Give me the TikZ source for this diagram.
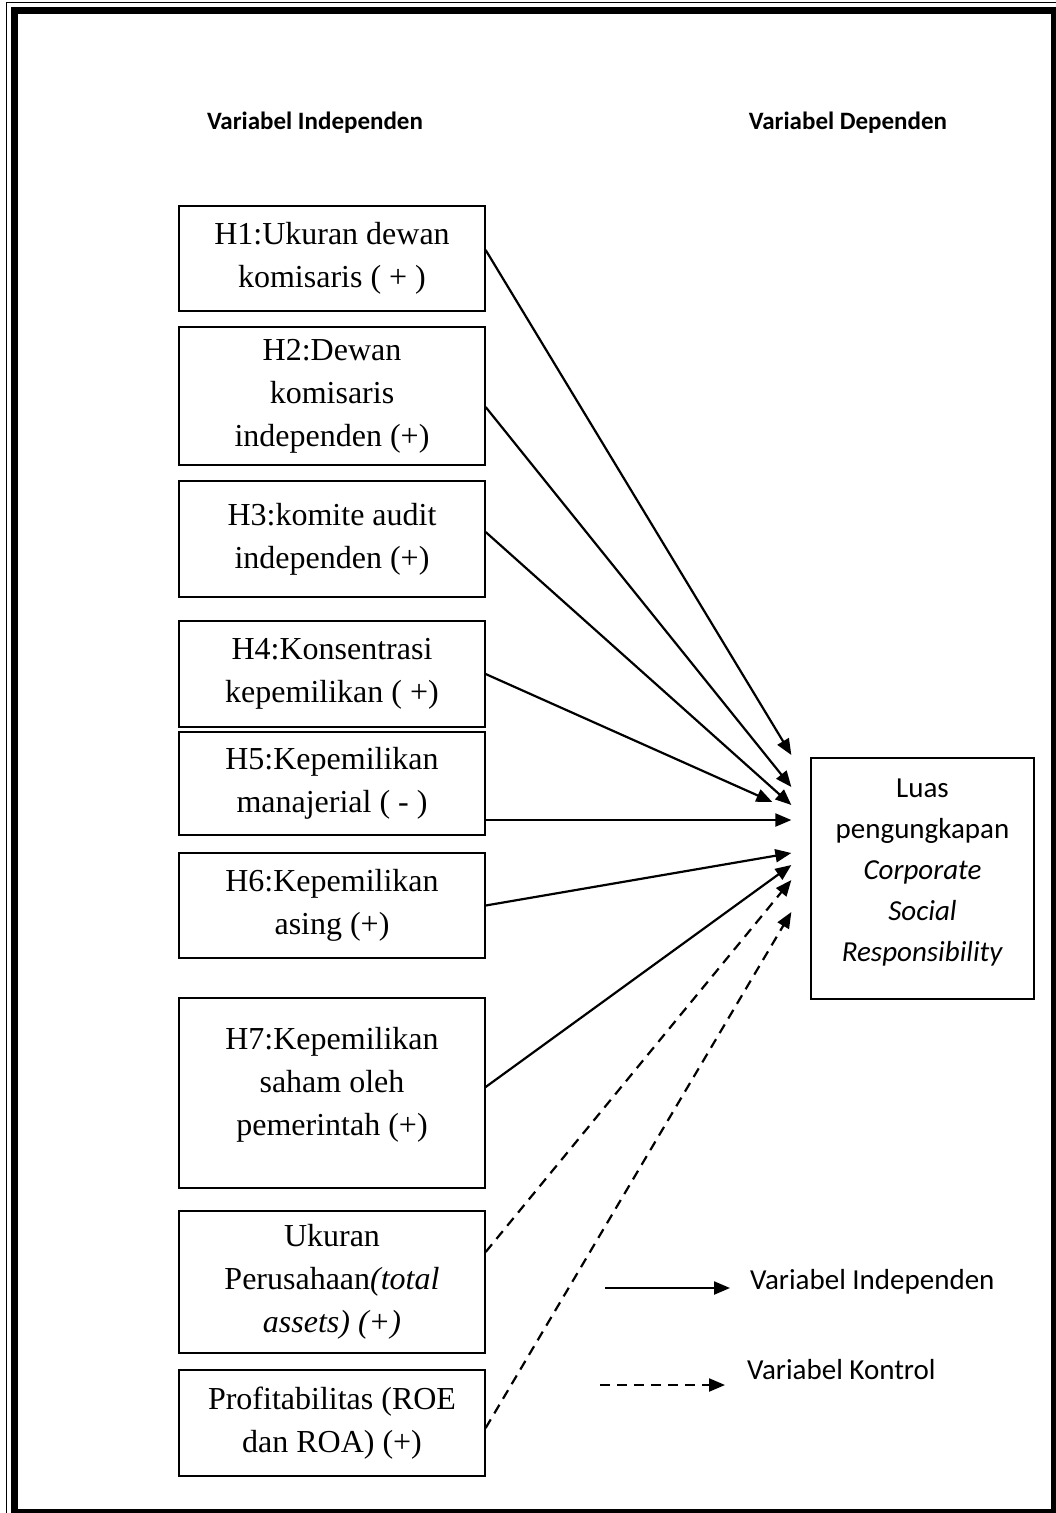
\documentclass[tikz,border=0pt]{standalone}
\usepackage{fontspec}
\setmainfont{Liberation Serif}
\newfontfamily\calfont{Carlito}
\usetikzlibrary{arrows.meta,calc}
\begin{document}
\begin{tikzpicture}[x=1pt,y=-1pt,
  box/.style={draw, line width=1.3pt, minimum width=306pt, align=center, inner sep=0pt,
    font=\fontsize{32}{43}\selectfont},
  depbox/.style={draw, line width=1.3pt, minimum width=223pt, minimum height=241pt, align=center, inner sep=0pt,
    font=\calfont\fontsize{29}{41}\selectfont},
  head/.style={font=\calfont\bfseries\fontsize{25}{30}\selectfont, inner sep=0pt},
  legtext/.style={font=\calfont\fontsize{29}{34}\selectfont, inner sep=0pt, anchor=west},
  arr/.style={line width=2.2pt, -{Triangle[length=16pt,width=13pt]}},
  ctrl/.style={arr, dash pattern=on 10pt off 7pt}]
\useasboundingbox (0,0) rectangle (1056,1513);
\clip (0,0) rectangle (1056,1513);
% frame
\draw[line width=1.2pt] (6.5,2.5) rectangle (1080,1540);
\draw[line width=6.5pt] (14.3,10.5) rectangle (1054.5,1512.5);
% headings
\node[head] (hind) at (315,123) {Variabel Independen};
\node[head] (hdep) at (848,123) {Variabel Dependen};
% boxes
\node[box, minimum height=105pt] (h1) at (332,258.5) {H1:Ukuran dewan\\komisaris ( + )};
\node[box, minimum height=138pt] (h2) at (332,396) {H2:Dewan\\komisaris\\independen (+)};
\node[box, minimum height=116pt] (h3) at (332,539) {H3:komite audit\\independen (+)};
\node[box, minimum height=106pt] (h4) at (332,674) {H4:Konsentrasi\\kepemilikan ( +)};
\node[box, minimum height=103pt] (h5) at (332,783.5) {H5:Kepemilikan\\manajerial ( - )};
\node[box, minimum height=105pt] (h6) at (332,905.5) {H6:Kepemilikan\\asing (+)};
\node[box, minimum height=190pt] (h7) at (332,1093) {H7:Kepemilikan\\saham oleh\\pemerintah (+)\\[-20pt]\mbox{}};
\node[box, minimum height=142pt] (uk) at (332,1282) {Ukuran\\Perusahaan\textit{(total}\\\textit{assets) (+)}};
\node[box, minimum height=106pt] (pr) at (332,1423) {Profitabilitas (ROE\\dan ROA) (+)};
\node[depbox] (dep) at (922.5,878.5) {Luas\\pengungkapan\\\textit{Corporate}\\\textit{Social}\\\textit{Responsibility}\\[-25pt]\mbox{}};
% connectors
\draw[arr] ($(h1.east)+(0,-8.5)$) -- ($(dep.west)+(-19,-123.5)$);
\draw[arr] ($(h2.east)+(0,11)$) -- ($(dep.west)+(-19,-91.5)$);
\draw[arr] ($(h3.east)+(0,-7)$) -- ($(dep.west)+(-19,-73.5)$);
\draw[arr] (h4.east) -- ($(dep.west)+(-38,-76.5)$);
\draw[arr] (h5.east |- 0,820) -- ($(dep.west)+(-19,-58.5)$);
\draw[arr] (h6.east) -- ($(dep.west)+(-19,-25.5)$);
\draw[arr] ($(h7.east)+(0,-6)$) -- ($(dep.west)+(-19,-13.5)$);
\draw[ctrl] ($(uk.east)+(0,-30)$) -- ($(dep.west)+(-19,1.5)$);
\draw[ctrl] ($(pr.east)+(0,5)$) -- ($(dep.west)+(-19,33.5)$);
% legend
\coordinate (ls1) at (605,1288);
\coordinate (le1) at (730,1288);
\coordinate (ls2) at (600,1385);
\coordinate (le2) at (725,1385);
\draw[arr] (ls1) -- (le1);
\draw[ctrl] (ls2) -- (le2);
\node[legtext] (lt1) at (750,1282) {Variabel Independen};
\node[legtext] (lt2) at (747,1370) {Variabel Kontrol};
\end{tikzpicture}
\end{document}
